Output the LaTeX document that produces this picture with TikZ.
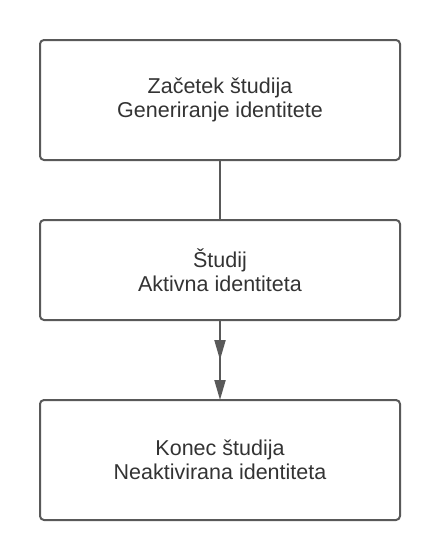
\documentclass[tikz,border=0pt]{standalone}
\usepackage{fontspec}
\setmainfont{Liberation Sans}
\usetikzlibrary{arrows.meta,positioning,decorations.markings}
\definecolor{linegray}{RGB}{89,89,89}
\definecolor{textgray}{RGB}{51,51,51}

\begin{document}
\begin{tikzpicture}[x=1pt,y=1pt,>={Triangle[length=20pt,width=11pt]},line width=2pt,
  box/.style={draw=linegray,rounded corners=4pt,minimum width=360pt,outer sep=0pt,
    text=textgray,align=center,font=\fontsize{21.5}{24.5}\selectfont},
  link/.style={draw=linegray}]
 \useasboundingbox (0,0) rectangle (440,-560);

 \node[box,minimum height=120pt] (start) at (220,-100) {Začetek študija\\Generiranje identitete};
 \node[box,minimum height=100pt] (study) [below=60pt of start] {Študij\\Aktivna identiteta};
 \node[box,minimum height=120pt] (finish) [below=80pt of study] {Konec študija\\Neaktivirana identiteta};

 \path[link] (start) -- (study);
 \path[link,->,decoration={markings,mark=at position 0.5 with {\arrow{>}}},postaction={decorate}]
   (study) -- (finish);
\end{tikzpicture}
\end{document}
